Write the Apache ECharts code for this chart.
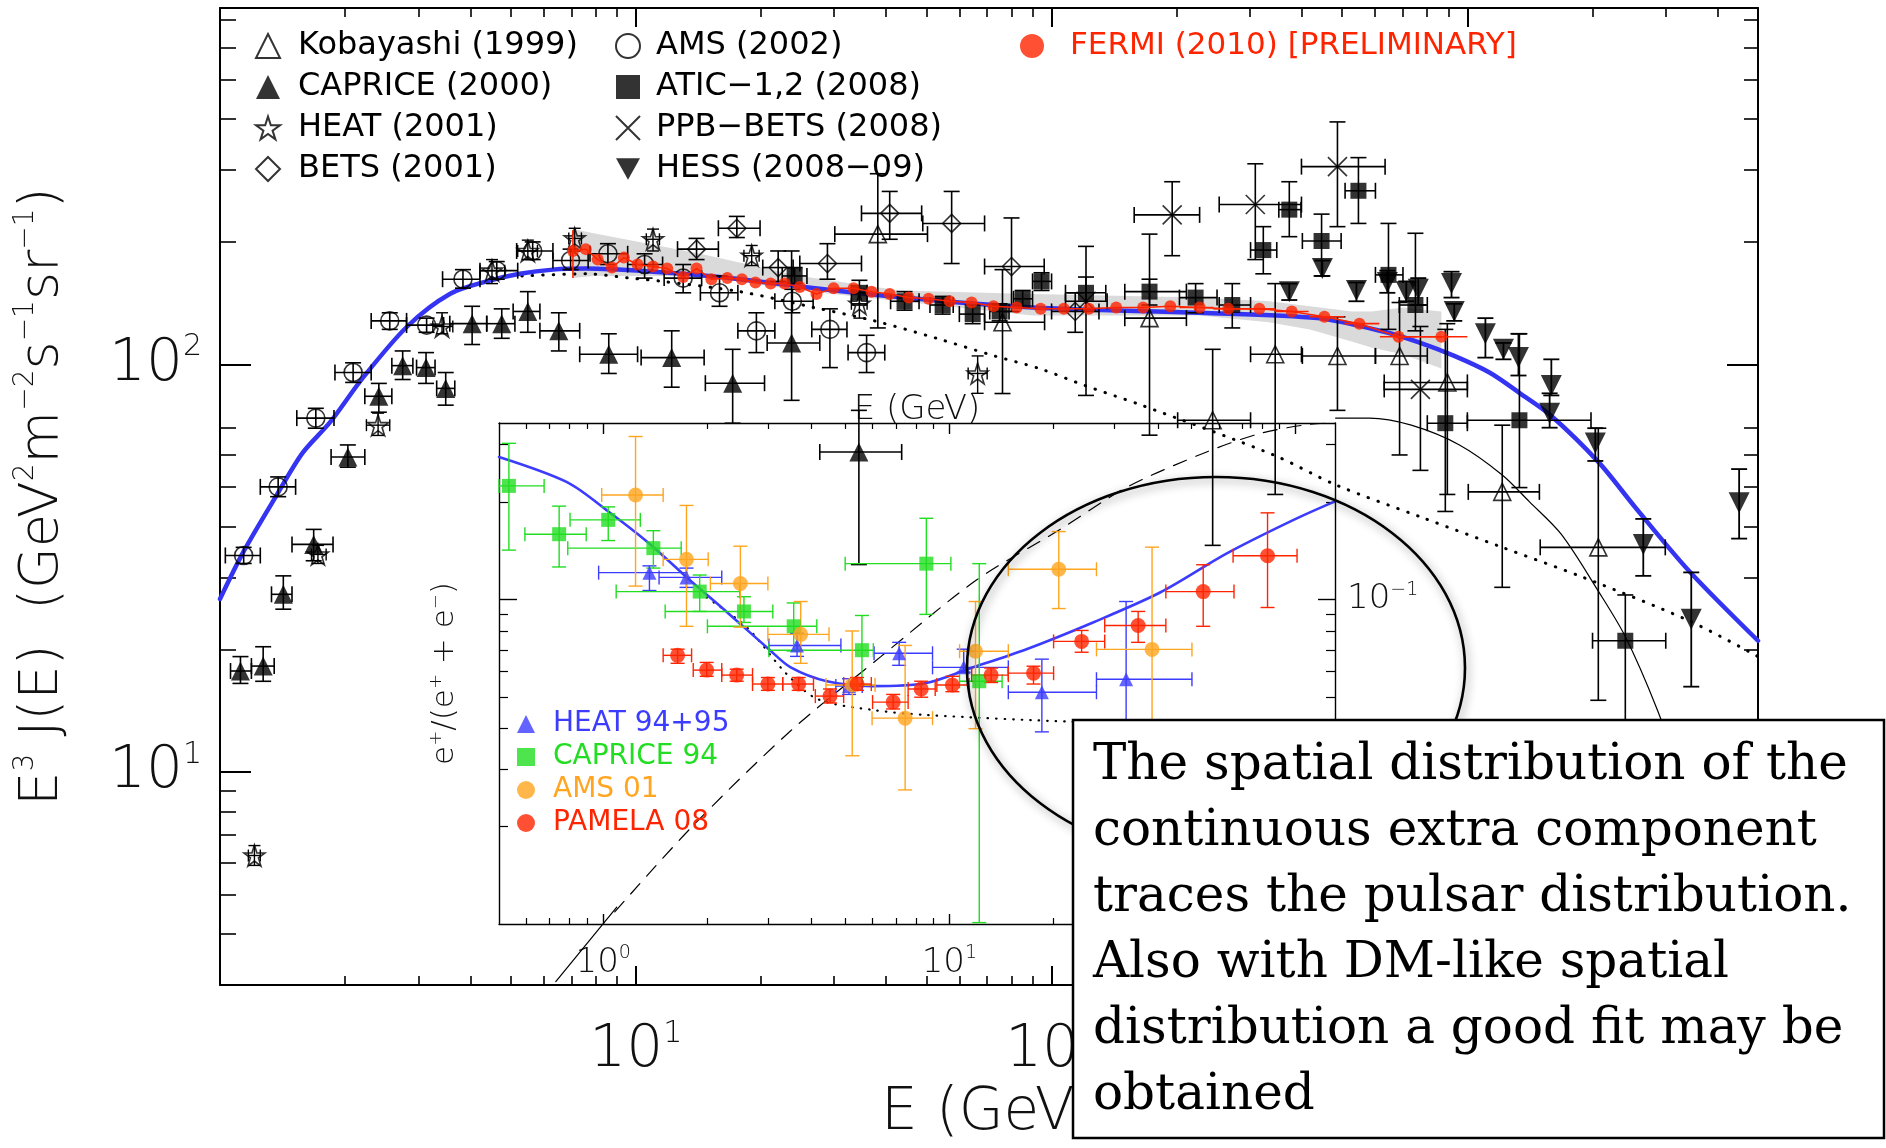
<!DOCTYPE html>
<html>
<head>
<meta charset="utf-8">
<script src="https://cdn.jsdelivr.net/npm/echarts/dist/echarts.min.js"></script>
<style>
html, body { margin: 0; padding: 0; background: #fff; }
#chart { width: 1886px; height: 1148px; }
</style>
</head>
<body>
<div id="chart"></div>
<script>
// ---------- Main panel: E^3 J(E) of cosmic-ray electrons (+positrons) ----------
// rows: [E (GeV), E^3 J, E_lo, E_hi, value_lo, value_hi]
const kobayashi = [
  [38.2, 209, 30.1, 50.3, 123, 294],
  [76.2, 127, 69.0, 96.2, 84.9, 171],
  [172, 130, 150, 211, 67.1, 209],
  [244, 73.0, 201, 301, 36.0, 109],
  [345, 106, 301, 399, 48.0, 158],
  [487, 105, 401, 601, 77.2, 131],
  [687, 105, 601, 801, 60.0, 142],
  [895, 90.4, 631, 1000, 48.0, 126],
  [1213, 48.7, 1005, 1490, 28.4, 71.0],
  [2065, 35.6, 1497, 2992, 15.0, 69.8]
];
const caprice2000 = [
  [1.12, 17.7, 1.06, 1.19, 16.5, 19.2],
  [1.27, 18.2, 1.19, 1.35, 16.7, 20.3],
  [1.42, 27.3, 1.33, 1.49, 25.1, 30.3],
  [1.68, 36.2, 1.49, 1.87, 33.0, 39.4],
  [2.03, 59.3, 1.85, 2.23, 56.0, 63.5],
  [2.41, 83.6, 2.23, 2.59, 76.4, 89.9],
  [2.75, 99.4, 2.59, 2.91, 91.9, 108],
  [3.13, 98.3, 2.97, 3.29, 89.9, 107],
  [3.49, 87.4, 3.32, 3.67, 79.5, 95.6],
  [4.04, 126, 3.57, 4.38, 112, 139],
  [4.76, 126, 4.38, 5.12, 116, 137],
  [5.50, 135, 5.07, 5.88, 120, 151],
  [6.53, 121, 5.88, 7.33, 108, 134],
  [8.61, 106, 7.33, 10.1, 95.1, 119],
  [12.2, 104, 10.3, 14.6, 88.0, 121],
  [17.1, 90.0, 14.7, 20.4, 71.8, 109],
  [23.7, 113, 20.7, 27.7, 81.7, 190],
  [34.4, 61.0, 27.7, 43.6, 32.3, 77.2]
];
const heat2001 = [
  [1.21, 6.24, 1.17, 1.25, 5.9, 6.6],
  [1.72, 34.2, 1.66, 1.80, 32.5, 36.0],
  [2.40, 71.0, 2.25, 2.56, 67.0, 76.0],
  [3.42, 124, 3.25, 3.63, 119, 134],
  [4.51, 170, 4.22, 4.84, 158, 181],
  [5.50, 190, 5.20, 5.80, 181, 202],
  [7.13, 204, 6.90, 7.40, 190, 216],
  [11.0, 203, 10.6, 11.4, 190, 215],
  [19.0, 185, 18.2, 19.8, 175, 196],
  [34.5, 141, 33.0, 36.0, 130, 153],
  [66.4, 95.1, 63.0, 70.0, 85.0, 105]
];
const bets2001 = [
  [14.0, 192, 12.6, 15.8, 181, 204],
  [17.5, 216, 15.8, 19.9, 205, 231],
  [22.0, 173, 20.2, 23.9, 160, 190],
  [28.9, 177, 24.8, 34.9, 162, 198],
  [40.8, 235, 34.9, 48.7, 203, 266],
  [57.5, 222, 49.0, 69.0, 177, 266],
  [80.1, 174, 69.0, 96.0, 135, 229],
  [114, 135, 100, 130, 120, 150]
];
const ams2002 = [
  [1.14, 34.0, 1.03, 1.25, 32.5, 35.6],
  [1.38, 50.1, 1.25, 1.52, 47.4, 53.0],
  [1.70, 73.9, 1.53, 1.88, 69.8, 78.1],
  [2.09, 95.6, 1.89, 2.31, 90.4, 101],
  [2.56, 128, 2.31, 2.81, 122, 134],
  [3.14, 125, 2.81, 3.45, 120, 130],
  [3.84, 162, 3.43, 4.22, 154, 171],
  [4.63, 170, 4.22, 5.20, 162, 179],
  [5.65, 190, 5.17, 6.32, 181, 200],
  [6.97, 180, 6.32, 7.68, 171, 192],
  [8.57, 187, 7.76, 9.56, 176, 198],
  [10.5, 176, 9.56, 11.6, 163, 187],
  [13.0, 163, 11.7, 14.4, 150, 176],
  [15.9, 150, 14.3, 17.6, 139, 165],
  [19.5, 121, 17.6, 21.6, 107, 134],
  [23.8, 143, 21.6, 26.7, 134, 153],
  [29.3, 122, 26.5, 32.2, 98.3, 137],
  [35.9, 107, 32.4, 39.7, 95.6, 118]
];
const atic = [
  [24.1, 165, 22.5, 25.8, 158, 173],
  [34.5, 150, 33.0, 36.0, 140, 161],
  [44.3, 143, 41.0, 48.0, 136, 151],
  [54.7, 140, 51.0, 58.0, 133, 147],
  [64.6, 133, 60.0, 69.0, 126, 140],
  [75.0, 135, 71.0, 79.0, 128, 141],
  [85.2, 145, 81.0, 90.0, 138, 152],
  [94.6, 160, 90.0, 100, 152, 168],
  [121, 150, 108, 135, 137, 164],
  [172, 151, 150, 211, 140, 162],
  [222, 146, 203, 250, 134, 158],
  [272, 140, 253, 301, 123, 158],
  [323, 191, 301, 348, 167, 218],
  [373, 240, 352, 398, 206, 281],
  [446, 201, 401, 497, 165, 234],
  [547, 267, 508, 601, 222, 322],
  [646, 166, 601, 700, 122, 222],
  [750, 140, 686, 801, 121, 210],
  [885, 71.8, 801, 1000, 43.6, 122],
  [1334, 73.0, 1000, 1983, 49.9, 119],
  [2398, 21.0, 2000, 3000, 3.0, 27.2]
];
const ppbBets = [
  [121, 143, 108, 136, 84.0, 195],
  [195, 233, 158, 227, 185, 281],
  [309, 247, 253, 399, 181, 311],
  [487, 306, 399, 634, 218, 394],
  [771, 86.9, 631, 1000, 55.0, 124]
];
// rows: [E, E^3 J, value_lo, value_hi]
const hess = [
  [373, 151, 144, 158], [448, 172, 165, 180], [541, 152, 143, 159],
  [642, 159, 150, 170], [713, 151, 143, 160], [762, 153, 140, 163],
  [916, 158, 146, 169], [930, 135, 128, 141], [1105, 119, 104, 130],
  [1221, 109, 103, 113], [1327, 104, 94.0, 119], [1592, 88.9, 84.0, 103],
  [1577, 75.9, 70.0, 85.0], [2031, 64.2, 58.0, 69.8], [2649, 36.2, 30.3, 41.8],
  [3455, 23.7, 16.2, 30.9], [4504, 45.8, 37.4, 55.4]
];
// rows: [E, E^3 J]
const fermi = [
  [7.06, 190], [7.58, 192], [8.10, 181], [8.76, 173], [9.36, 183], [10.1, 176],
  [11.0, 174], [11.9, 172], [13.0, 164], [14.0, 172], [15.2, 162], [16.6, 163],
  [18.0, 162], [19.4, 159], [21.1, 158], [22.8, 158], [24.8, 155], [27.2, 149],
  [29.9, 154], [33.4, 154], [36.9, 151], [40.8, 149], [45.3, 146], [50.6, 145],
  [56.9, 143], [64.2, 142], [72.5, 139], [82.4, 138], [94.1, 137], [107, 137],
  [123, 137], [143, 138], [166, 138], [193, 139], [227, 138], [266, 137],
  [316, 137], [378, 135], [453, 131], [550, 126], [683, 117], [866, 117]
];
const fermiErrors = [
  [7.06, 190, 7.06, 7.06, 163, 214],
  [227, 138, 203, 245, 138, 138],
  [266, 137, 245, 291, 137, 137],
  [316, 137, 291, 345, 137, 137],
  [378, 135, 345, 415, 135, 135],
  [453, 131, 417, 506, 131, 131],
  [550, 126, 506, 614, 126, 126],
  [683, 117, 616, 758, 117, 117],
  [866, 117, 771, 1000, 117, 117]
];
// systematic band: [E, lower, upper]
const fermiBand = [
  [7.06, 163, 215], [7.92, 165, 210], [14.3, 165, 187], [24.8, 152, 165],
  [43.1, 143, 152], [89.9, 132, 149], [227, 132, 146], [333, 127, 143],
  [418, 122, 139], [527, 114, 135], [590, 110, 135], [699, 106, 138], [866, 97.8, 135]
];
// model curves: [E, E^3 J]
const modelTotal = [
  [1.0, 26.6], [1.14, 34.8], [1.37, 47.9], [1.58, 60.7], [1.84, 72.2], [2.21, 93.0],
  [2.82, 124], [3.57, 149], [4.38, 160], [5.26, 167], [6.32, 171], [7.62, 172],
  [11.0, 169], [15.9, 164], [35.9, 149], [90.0, 138], [227, 134], [436, 130],
  [638, 120], [771, 113], [930, 105], [1130, 95.6], [1341, 84.9], [1585, 75.1],
  [2065, 57.7], [2535, 44.6], [3418, 31.1], [5000, 21.0]
];
const modelStandard = [
  [5.32, 165], [7.62, 167], [9.67, 163], [11.6, 160], [17.8, 151], [26.9, 138],
  [37.5, 128], [52.9, 116], [72.9, 105], [93.5, 97.8], [120, 88.9], [165, 79.4],
  [342, 60.0], [482, 50.7], [780, 42.1], [1213, 35.6], [1890, 30.1], [3417, 23.5], [5000, 19.2]
];
const extraLow = [[6.42, 3.06], [9.0, 4.66]];
const extraHigh = [
  [482, 73.9], [581, 73.9], [733, 71.0], [957, 63.5], [1213, 53.6], [1409, 46.1],
  [1683, 38.3], [2065, 27.8], [2398, 21.5], [2864, 14.2], [3234, 9.95]
];

// ---------- Inset: positron fraction e+/(e+ + e-) ----------
const heat9495 = [
  [1.36, 0.121, 0.97, 1.74, 0.1066, 0.127],
  [1.74, 0.117, 1.45, 2.20, 0.109, 0.125],
  [3.63, 0.0722, 3.01, 4.86, 0.0668, 0.0787],
  [5.13, 0.0541, 4.70, 5.60, 0.051, 0.057],
  [7.16, 0.0683, 6.06, 8.94, 0.0627, 0.0738],
  [11.0, 0.0618, 8.94, 14.8, 0.0597, 0.0703],
  [18.5, 0.0518, 14.8, 26.6, 0.0391, 0.0655],
  [32.4, 0.0568, 26.6, 50.2, 0.035, 0.0986]
];
const caprice94 = [
  [0.534, 0.224, 0.5, 0.675, 0.142, 0.303],
  [0.746, 0.159, 0.594, 0.893, 0.126, 0.194],
  [1.034, 0.176, 0.802, 1.28, 0.152, 0.193],
  [1.396, 0.144, 0.79, 1.68, 0.125, 0.163],
  [1.90, 0.1058, 1.09, 2.48, 0.0919, 0.119],
  [2.55, 0.0919, 1.51, 3.09, 0.085, 0.102],
  [3.55, 0.0827, 2.00, 4.14, 0.0694, 0.0976],
  [5.59, 0.0698, 3.01, 6.03, 0.0545, 0.0893],
  [8.58, 0.129, 5.0, 10.1, 0.090, 0.178],
  [12.2, 0.056, 10.7, 14.2, 0.0101, 0.129]
];
const ams01 = [
  [1.24, 0.210, 0.99, 1.49, 0.110, 0.318],
  [1.74, 0.133, 1.49, 2.01, 0.0827, 0.195],
  [2.49, 0.112, 2.04, 2.99, 0.0822, 0.146],
  [3.72, 0.0781, 2.99, 4.49, 0.0636, 0.0986],
  [5.24, 0.0545, 4.40, 6.10, 0.033, 0.080],
  [7.45, 0.0431, 5.98, 8.94, 0.0259, 0.0722],
  [11.9, 0.0693, 10.7, 14.8, 0.040, 0.0986],
  [20.7, 0.124, 14.8, 26.6, 0.0938, 0.162],
  [38.5, 0.0702, 26.6, 50.2, 0.025, 0.145]
];
const pamela08 = [
  [1.64, 0.0673, 1.49, 1.80, 0.0636, 0.0703],
  [1.99, 0.0606, 1.82, 2.20, 0.058, 0.064],
  [2.43, 0.0585, 2.20, 2.70, 0.056, 0.061],
  [2.99, 0.0549, 2.70, 3.30, 0.0525, 0.0575],
  [3.67, 0.0549, 3.30, 4.05, 0.0525, 0.0575],
  [4.52, 0.0504, 4.10, 4.95, 0.048, 0.053],
  [5.41, 0.0549, 4.95, 5.95, 0.0525, 0.0575],
  [6.88, 0.0483, 6.00, 7.60, 0.046, 0.051],
  [8.29, 0.0530, 7.60, 9.10, 0.050, 0.056],
  [10.2, 0.0545, 9.20, 11.4, 0.052, 0.058],
  [13.2, 0.0585, 11.6, 14.8, 0.0555, 0.0615],
  [17.5, 0.0593, 14.8, 20.0, 0.0549, 0.0623],
  [24.1, 0.0743, 20.0, 28.1, 0.0688, 0.0803],
  [35.1, 0.0832, 28.1, 42.2, 0.0738, 0.0919],
  [54.1, 0.1058, 42.2, 66.4, 0.0827, 0.128],
  [83.0, 0.1365, 66.0, 101, 0.0945, 0.185]
];
const fracTotal = [
  [0.5, 0.275], [0.786, 0.230], [1.03, 0.1875], [1.35, 0.1497], [1.76, 0.116],
  [2.30, 0.0906], [3.01, 0.0703], [3.48, 0.0618], [4.43, 0.0560], [5.98, 0.0541],
  [8.51, 0.0552], [11.5, 0.0614], [16.7, 0.0703], [26.0, 0.0850], [40.6, 0.1051],
  [63.5, 0.139], [98.7, 0.176], [129, 0.200]
];
const fracSecondary = [
  [1.99, 0.1014], [2.60, 0.0821], [3.39, 0.0589], [4.17, 0.0493], [5.98, 0.0457],
  [8.51, 0.0441], [22.9, 0.0420], [130, 0.0399]
];
const fracExtra = [
  [1.08, 0.0109], [1.81, 0.0200], [3.48, 0.0394], [6.35, 0.0668], [12.0, 0.115],
  [20.8, 0.164], [32.6, 0.222], [54.9, 0.284], [79.1, 0.325], [110, 0.347], [130, 0.35]
];

// ---------- tick positions ----------
const mainXMajor = [10, 100, 1000];
const mainXMinor = [2, 3, 4, 5, 6, 7, 8, 9, 20, 30, 40, 50, 60, 70, 80, 90,
  200, 300, 400, 500, 600, 700, 800, 900, 2000, 3000, 4000];
const mainYMajor = [10, 100];
const mainYMinor = [4, 5, 6, 7, 8, 9, 20, 30, 40, 50, 60, 70, 200, 300, 400, 500, 600, 700];
const insetXMajor = [1, 10, 100];
const insetXMinor = [0.6, 0.7, 0.8, 0.9, 2, 3, 4, 5, 6, 7, 8, 9, 20, 30, 40, 50, 60, 70, 80, 90];
const insetYMajor = [0.1];
const insetYMinor = [0.02, 0.03, 0.04, 0.05, 0.06, 0.07, 0.08, 0.09, 0.2, 0.3];

const noteLines = [
  'The spatial distribution of the',
  'continuous extra component',
  'traces the pulsar distribution.',
  'Also with DM-like spatial',
  'distribution a good fit may be',
  'obtained'
];

// ---------- styling ----------
const SANS = '"DejaVu Sans", "Liberation Sans", sans-serif';
const SERIF = '"DejaVu Serif", "Liberation Serif", serif';
const INK = '#111';
const BLUE = '#3434f2';
const RED = '#ff2400';
const GREEN = '#22dd22';
const ORANGE = '#ffa51f';
const IBLUE = '#3c3cff';

const STAR = 'path://M5,0 L6.18,3.62 10,3.62 6.91,5.85 8.09,9.51 5,7.27 1.91,9.51 3.09,5.85 0,3.62 3.82,3.62 Z';
const CROSS = 'path://M0,0 L10,10 M10,0 L0,10';
const DOWN = 'path://M0,0 L10,0 L5,9 Z';

function powLabel(v) {
  const e = Math.round(Math.log10(v));
  return '{b|10}{s|' + (e < 0 ? '\u2212' + (-e) : e) + '}';
}
const bigRich = {
  b: { fontFamily: SANS, fontSize: 58, fontWeight: 200, color: INK, lineHeight: 64 },
  s: { fontFamily: SANS, fontSize: 30, fontWeight: 200, color: INK, verticalAlign: 'top', lineHeight: 30 }
};
const smallRich = {
  b: { fontFamily: SANS, fontSize: 34, fontWeight: 200, color: INK, lineHeight: 38 },
  s: { fontFamily: SANS, fontSize: 19, fontWeight: 200, color: INK, verticalAlign: 'top', lineHeight: 19 }
};

function logAxis(o) {
  const base = {
    type: 'log', logBase: 10, silent: true,
    axisLine: { show: false, lineStyle: { color: '#000', width: 2 } },
    axisLabel: { show: false },
    splitLine: { show: false },
    minorTick: { show: false }
  };
  return Object.assign(base, o);
}
function ticks(values, len, width) {
  return { show: true, inside: true, length: len, customValues: values, lineStyle: { color: '#000', width: width } };
}

function errSeries(rows, color, xi, yi, cap, lw) {
  const data = rows.map(r => r.length === 4 ? [r[0], r[1], r[0], r[0], r[2], r[3]] : r);
  return {
    type: 'custom', xAxisIndex: xi, yAxisIndex: yi, data: data, silent: true, z: 3,
    dimensions: ['E', 'v', 'Elo', 'Ehi', 'vlo', 'vhi'],
    encode: { x: 0, y: 1 },
    renderItem: function (params, api) {
      const E = api.value(0), v = api.value(1);
      const elo = api.value(2), ehi = api.value(3), vlo = api.value(4), vhi = api.value(5);
      const st = { stroke: color, lineWidth: lw, fill: null };
      const ch = [];
      const seg = (p, q) => ch.push({ type: 'line', shape: { x1: p[0], y1: p[1], x2: q[0], y2: q[1] }, style: st });
      if (elo !== ehi) {
        const a = api.coord([elo, v]), b = api.coord([ehi, v]);
        seg(a, b);
        seg([a[0], a[1] - cap], [a[0], a[1] + cap]);
        seg([b[0], b[1] - cap], [b[0], b[1] + cap]);
      }
      if (vlo !== vhi) {
        const a = api.coord([E, vlo]), b = api.coord([E, vhi]);
        seg(a, b);
        seg([a[0] - cap, a[1]], [a[0] + cap, a[1]]);
        seg([b[0] - cap, b[1]], [b[0] + cap, b[1]]);
      }
      return { type: 'group', children: ch };
    }
  };
}
function pts(name, rows, symbol, size, itemStyle, xi, yi) {
  return {
    type: 'scatter', name: name, xAxisIndex: xi, yAxisIndex: yi, z: 4, silent: true,
    data: rows.map(r => [r[0], r[1]]), symbol: symbol, symbolSize: size, itemStyle: itemStyle
  };
}
function curve(rows, color, width, type, xi, yi, z) {
  return {
    type: 'line', xAxisIndex: xi, yAxisIndex: yi, data: rows, symbol: 'none', smooth: 0.3,
    silent: true, z: z || 2,
    lineStyle: { color: color, width: width, type: type || 'solid', cap: 'round' }
  };
}
const openBlack = { color: 'transparent', borderColor: '#000', borderWidth: 1.6 };
const solidBlack = { color: '#000', borderColor: '#000', borderWidth: 0 };

const yTitle = '{a|E}{s|3}{a| J(E)  (GeV}{s|2}{a|m}{s|\u22122}{a|s}{s|\u22121}{a|sr}{s|\u22121}{a|)}';
const insetYTitle = '{a|e}{s|+}{a|/(e}{s|+}{a| + e}{s|\u2212}{a|)}';

const legendText = { fontFamily: SANS, fontSize: 32, lineHeight: 32, color: '#000' };

const chart = echarts.init(document.getElementById('chart'), null, { renderer: 'canvas' });
chart.setOption({
  animation: false,
  backgroundColor: '#fff',
  grid: [
    { left: 220, top: 8, width: 1538, height: 988 },
    { left: 499, top: 423, width: 836, height: 501 }
  ],
  xAxis: [
    logAxis({ gridIndex: 0, min: 1, max: 5000, position: 'bottom',
      axisLine: { show: true, lineStyle: { color: '#000', width: 2 } },
      axisTick: ticks(mainXMajor, 19, 2),
      axisLabel: { show: true, customValues: mainXMajor, formatter: powLabel, margin: 34, rich: bigRich },
      name: 'E (GeV)', nameLocation: 'middle', nameGap: 93,
      nameTextStyle: { fontFamily: SANS, fontSize: 58, fontWeight: 200, color: INK } }),
    logAxis({ gridIndex: 0, min: 1, max: 5000, position: 'bottom', axisTick: ticks(mainXMinor, 9, 1.6) }),
    logAxis({ gridIndex: 0, min: 1, max: 5000, position: 'top',
      axisLine: { show: true, lineStyle: { color: '#000', width: 2 } }, axisTick: ticks(mainXMajor, 19, 2) }),
    logAxis({ gridIndex: 0, min: 1, max: 5000, position: 'top', axisTick: ticks(mainXMinor, 9, 1.6) }),

    logAxis({ gridIndex: 1, min: 0.5, max: 130, position: 'bottom',
      axisLine: { show: true, lineStyle: { color: '#000', width: 1.4 } },
      axisTick: ticks(insetXMajor, 10, 1.4),
      axisLabel: { show: true, customValues: insetXMajor, formatter: powLabel, margin: 20, rich: smallRich } }),
    logAxis({ gridIndex: 1, min: 0.5, max: 130, position: 'bottom', axisTick: ticks(insetXMinor, 6, 1.2) }),
    logAxis({ gridIndex: 1, min: 0.5, max: 130, position: 'top',
      axisLine: { show: true, lineStyle: { color: '#000', width: 1.4 } },
      axisTick: ticks(insetXMajor, 11, 1.4),
      name: 'E (GeV)', nameLocation: 'middle', nameGap: -4,
      nameTextStyle: { fontFamily: SANS, fontSize: 34, fontWeight: 200, color: INK } }),
    logAxis({ gridIndex: 1, min: 0.5, max: 130, position: 'top', axisTick: ticks(insetXMinor, 6, 1.2) })
  ],
  yAxis: [
    logAxis({ gridIndex: 0, min: 3, max: 750, position: 'left',
      axisLine: { show: true, lineStyle: { color: '#000', width: 2 } },
      axisTick: ticks(mainYMajor, 31, 2),
      axisLabel: { show: true, customValues: mainYMajor, formatter: powLabel, margin: 18, rich: bigRich },
      name: yTitle, nameLocation: 'middle', nameGap: 146, nameRotate: 90,
      nameTextStyle: { rich: {
        a: { fontFamily: SANS, fontSize: 54, fontWeight: 200, color: INK, lineHeight: 62 },
        s: { fontFamily: SANS, fontSize: 28, fontWeight: 200, color: INK, verticalAlign: 'top', lineHeight: 28 }
      } } }),
    logAxis({ gridIndex: 0, min: 3, max: 750, position: 'left', axisTick: ticks(mainYMinor, 16, 1.6) }),
    logAxis({ gridIndex: 0, min: 3, max: 750, position: 'right',
      axisLine: { show: true, lineStyle: { color: '#000', width: 2 } }, axisTick: ticks(mainYMajor, 31, 2) }),
    logAxis({ gridIndex: 0, min: 3, max: 750, position: 'right', axisTick: ticks(mainYMinor, 14, 1.6) }),

    logAxis({ gridIndex: 1, min: 0.01, max: 0.35, position: 'right',
      axisLine: { show: true, lineStyle: { color: '#000', width: 1.4 } },
      axisTick: ticks(insetYMajor, 17, 1.4),
      axisLabel: { show: true, customValues: insetYMajor, formatter: powLabel, margin: 12, rich: smallRich } }),
    logAxis({ gridIndex: 1, min: 0.01, max: 0.35, position: 'right', axisTick: ticks(insetYMinor, 9, 1.2) }),
    logAxis({ gridIndex: 1, min: 0.01, max: 0.35, position: 'left',
      axisLine: { show: true, lineStyle: { color: '#000', width: 1.4 } },
      axisTick: ticks(insetYMajor, 18, 1.4),
      name: insetYTitle, nameLocation: 'middle', nameGap: 36, nameRotate: 90,
      nameTextStyle: { rich: {
        a: { fontFamily: SANS, fontSize: 31, fontWeight: 200, color: INK, lineHeight: 36 },
        s: { fontFamily: SANS, fontSize: 18, fontWeight: 200, color: INK, verticalAlign: 'top', lineHeight: 18 }
      } } }),
    logAxis({ gridIndex: 1, min: 0.01, max: 0.35, position: 'left', axisTick: ticks(insetYMinor, 9, 1.2) })
  ],
  legend: [
    { left: 250, top: 25, orient: 'vertical', itemWidth: 24, itemHeight: 24, itemGap: 9, selectedMode: false,
      textStyle: Object.assign({ padding: [0, 0, 0, 13] }, legendText),
      data: ['Kobayashi (1999)', 'CAPRICE (2000)', 'HEAT (2001)', 'BETS (2001)'] },
    { left: 610, top: 25, orient: 'vertical', itemWidth: 24, itemHeight: 24, itemGap: 9, selectedMode: false,
      textStyle: Object.assign({ padding: [0, 0, 0, 11] }, legendText),
      data: ['AMS (2002)', 'ATIC\u22121,2 (2008)', 'PPB\u2212BETS (2008)', 'HESS (2008\u221209)'] },
    { left: 1015, top: 25, orient: 'vertical', itemWidth: 24, itemHeight: 24, selectedMode: false,
      textStyle: Object.assign({}, legendText, { color: RED, fontSize: 31, padding: [0, 0, 0, 21] }),
      data: ['FERMI (2010) [PRELIMINARY]'] },
    { left: 512, top: 705, orient: 'vertical', itemWidth: 18, itemHeight: 18, itemGap: 5, selectedMode: false,
      textStyle: { fontFamily: SANS, fontSize: 28, lineHeight: 28, padding: [0, 0, 0, 13] },
      data: [
        { name: 'HEAT 94+95', textStyle: { color: IBLUE } },
        { name: 'CAPRICE 94', textStyle: { color: GREEN } },
        { name: 'AMS 01', textStyle: { color: ORANGE } },
        { name: 'PAMELA 08', textStyle: { color: RED } }
      ] }
  ],
  series: [
    // systematic band around the FERMI points
    {
      type: 'custom', xAxisIndex: 0, yAxisIndex: 0, data: fermiBand, encode: { x: 0, y: 1 },
      silent: true, z: 1,
      renderItem: function (params, api) {
        if (params.dataIndex !== 0) return null;
        const up = fermiBand.map(r => api.coord([r[0], r[2]]));
        const lo = fermiBand.map(r => api.coord([r[0], r[1]])).reverse();
        return { type: 'polygon', shape: { points: up.concat(lo) }, style: { fill: '#dadada' } };
      }
    },
    curve(modelStandard, '#000', 3, [0.5, 10], 0, 0),
    curve(extraLow, '#000', 1.2, 'solid', 0, 0),
    curve(extraHigh, '#000', 1.2, 'solid', 0, 0),
    curve(modelTotal, BLUE, 4.5, 'solid', 0, 0),

    errSeries(kobayashi, '#000', 0, 0, 8, 1.6),
    errSeries(caprice2000, '#000', 0, 0, 8, 1.6),
    errSeries(heat2001, '#000', 0, 0, 6, 1.4),
    errSeries(bets2001, '#000', 0, 0, 8, 1.6),
    errSeries(ams2002, '#000', 0, 0, 8, 1.6),
    errSeries(atic, '#000', 0, 0, 8, 1.6),
    errSeries(ppbBets, '#000', 0, 0, 8, 1.6),
    errSeries(hess, '#000', 0, 0, 8, 1.8),

    pts('Kobayashi (1999)', kobayashi, 'triangle', 17, openBlack, 0, 0),
    pts('CAPRICE (2000)', caprice2000, 'triangle', 19, solidBlack, 0, 0),
    pts('HEAT (2001)', heat2001, STAR, 21, openBlack, 0, 0),
    pts('BETS (2001)', bets2001, 'diamond', 18, openBlack, 0, 0),
    pts('AMS (2002)', ams2002, 'circle', 18, openBlack, 0, 0),
    pts('ATIC\u22121,2 (2008)', atic, 'rect', 16, solidBlack, 0, 0),
    pts('PPB\u2212BETS (2008)', ppbBets, CROSS, 19, openBlack, 0, 0),
    pts('HESS (2008\u221209)', hess, DOWN, 21, solidBlack, 0, 0),

    Object.assign(curve(fermi, RED, 1.5, 'solid', 0, 0, 5), { smooth: false }),
    Object.assign(errSeries(fermiErrors, RED, 0, 0, 0, 1.6), { z: 5 }),
    Object.assign(pts('FERMI (2010) [PRELIMINARY]', fermi, 'circle', 12, { color: RED }, 0, 0), { z: 6 }),

    // inset panel
    curve(fracSecondary, '#000', 2.2, [0.5, 8], 4, 4),
    curve(fracExtra, '#000', 1.2, [14, 10], 4, 4),
    curve(fracTotal, IBLUE, 2.6, 'solid', 4, 4),
    errSeries(heat9495, IBLUE, 4, 4, 7, 1.4),
    errSeries(caprice94, GREEN, 4, 4, 7, 1.4),
    errSeries(ams01, ORANGE, 4, 4, 7, 1.4),
    errSeries(pamela08, RED, 4, 4, 7, 1.4),
    pts('HEAT 94+95', heat9495, 'triangle', 14, { color: IBLUE }, 4, 4),
    pts('CAPRICE 94', caprice94, 'rect', 14, { color: GREEN }, 4, 4),
    pts('AMS 01', ams01, 'circle', 15, { color: ORANGE }, 4, 4),
    pts('PAMELA 08', pamela08, 'circle', 15, { color: RED }, 4, 4)
  ],
  graphic: [
    {
      type: 'ellipse', z: 50, silent: true,
      shape: { cx: 1216, cy: 668, rx: 249, ry: 191 },
      style: { fill: null, stroke: '#000', lineWidth: 2.6, shadowBlur: 10, shadowColor: 'rgba(0,0,0,0.45)', shadowOffsetX: 2, shadowOffsetY: 3 }
    },
    {
      type: 'rect', z: 100, silent: true,
      shape: { x: 1073, y: 720, width: 811, height: 418 },
      style: { fill: '#fff', stroke: '#000', lineWidth: 2.5 }
    },
    {
      type: 'text', z: 101, silent: true, x: 1093, y: 733,
      style: { text: noteLines.join('\n'), fontFamily: SERIF, fontSize: 50, lineHeight: 66,
        fill: '#000', align: 'left', verticalAlign: 'top' }
    }
  ]
});
</script>
</body>
</html>
